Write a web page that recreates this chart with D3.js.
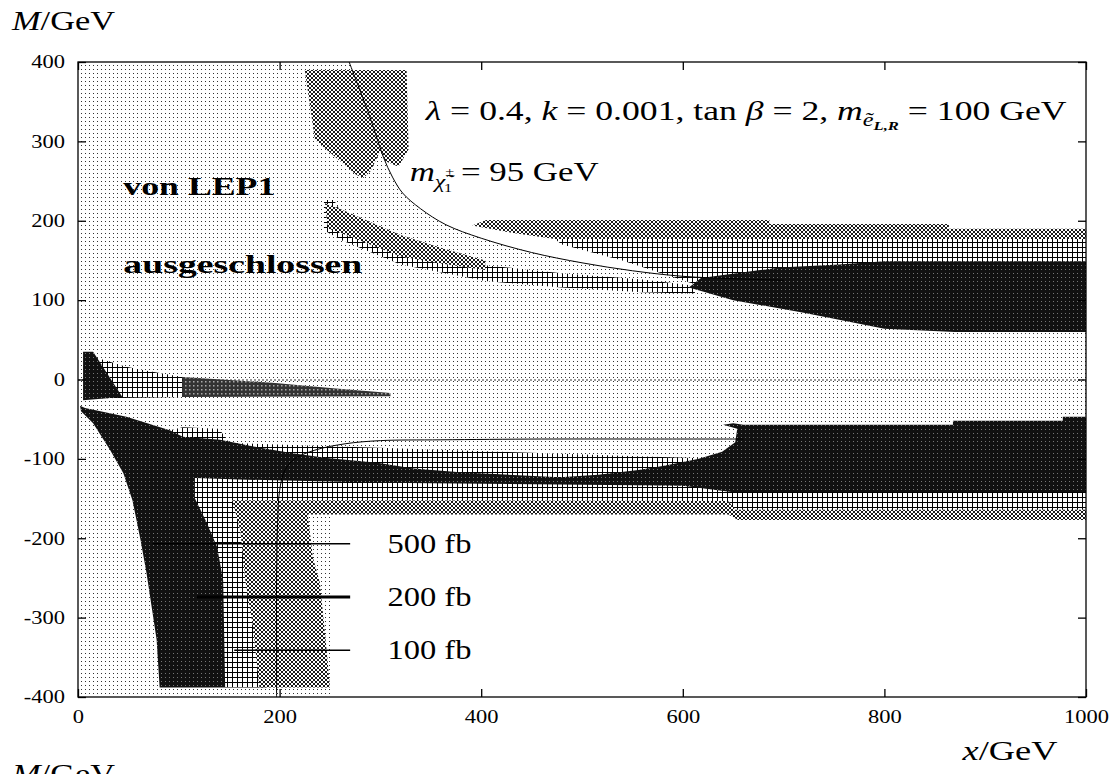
<!DOCTYPE html>
<html lang="de">
<head>
<meta charset="UTF-8">
<title>M / x Ebene</title>
<script src="https://cdn.jsdelivr.net/npm/d3@7"></script>
<style>
  body { margin: 0; background: #fff; }
  text { font-family: "Liberation Serif", "DejaVu Serif", serif; }
</style>
</head>
<body>
<svg id="plot" width="1117" height="774"></svg>
<script>
// Achsen
const xTicks = [0, 200, 400, 600, 800, 1000];
const yTicks = [-400, -300, -200, -100, 0, 100, 200, 300, 400];

// Konturen m_chi = 95 GeV, (x, M) in GeV
const upperCurve = [[269,400],[278,370],[287,340],[295,310],[303,280],[312,255],[322,235],[340,215],[365,195],[400,178],[450,160],[500,147],[550,137],[600,130],[650,127],[700,125]];
const lowerCurve = [[660,-75],[560,-75],[460,-75],[360,-76],[300,-77],[265,-81],[235,-89],[215,-100],[205,-115],[200,-140],[198,-180],[197,-250],[197,-330],[197,-400]];

// von LEP1 ausgeschlossen (Rand unten / rechts)
const lep1Edge = [[1000,125],[1000,-172],[250,-172],[250,-400],[0,-400],[0,400]];

// 500 fb (Rauten)
const diamBlob  = [[225,390],[326,390],[328,290],[318,268],[305,275],[300,288],[290,262],[283,254],[276,258],[235,302]];
const diamDiag  = [[245,222],[262,214],[320,182],[360,166],[404,150],[404,138],[360,146],[320,155],[262,184],[248,190]];
const diamTop   = [[391,194],[405,201],[686,201],[686,196],[864,196],[864,190],[1000,190],[1000,177],[473,177],[430,185]];
const diamLower = [[153,-152],[645,-153],[652,-164],[1000,-164],[1000,-177],[655,-177],[645,-170],[228,-170],[233,-224],[240,-256],[243,-294],[247,-345],[250,-388],[180,-388],[174,-316],[166,-253],[161,-190]];

// 200 fb (Kreuze)
const plusDiag  = [[244,226],[254,226],[262,208],[320,172],[404,144],[480,134],[560,126],[612,118],[612,108],[560,110],[480,116],[404,124],[320,145],[262,175],[244,188]];
const plusTop   = [[473,177],[1000,177],[1000,140],[700,140],[612,120],[540,150],[480,170]];
const plusZero  = [[10,30],[25,25],[48,16],[64,12],[104,3],[104,-22],[10,-24]];
const plusLower = [[91,-64],[104,-60],[140,-62],[150,-80],[640,-100],[1000,-100],[1000,-166],[650,-166],[640,-155],[186,-155],[186,-388],[146,-388],[110,-150]];

// 100 fb (dicht)
const darkUpper = [[606,116],[618,128],[696,141],[755,145],[800,149],[1000,149],[1000,60],[870,60],[800,64],[720,84],[650,100]];
const darkZero  = [[5,35],[15,35],[44,-22],[5,-26]];
const darkTail  = [[104,3],[193,-4],[253,-11],[310,-17],[310,-21],[104,-22]];
const darkLower = [[2,-33],[7,-36],[48,-47],[91,-64],[104,-72],[141,-76],[181,-86],[213,-93],[247,-99],[297,-105],[333,-112],[379,-117],[478,-123],[516,-120],[556,-114],[580,-109],[615,-100],[639,-91],[652,-79],[654,-62],[640,-57],[650,-55],[660,-57],[868,-57],[868,-52],[977,-52],[977,-47],[1000,-47],
  [1000,-142],[650,-142],[600,-134],[300,-130],[160,-126],[116,-124],[116,-150],[128,-181],[138,-211],[144,-253],[146,-388],[81,-388],[78,-328],[68,-244],[62,-202],[54,-152],[45,-118],[32,-89],[15,-55],[3,-40]];

// Legende
const lumi = ["500 fb", "200 fb", "100 fb"];
const keyM = [-207, -274, -341];
const keyStart = [74, 118, 155];
const keyEnd = 270;

const svg = d3.select("#plot");
const xS = d3.scaleLinear().domain([0, 1000]).range([78, 1086]);
const yS = d3.scaleLinear().domain([-400, 400]).range([697, 62]);

// Muster
const defs = svg.append("defs");
function pattern(id, w, h, bg, draw) {
  const p = defs.append("pattern").attr("id", id)
    .attr("patternUnits", "userSpaceOnUse").attr("width", w).attr("height", h);
  if (bg) p.append("rect").attr("width", w).attr("height", h).attr("fill", bg);
  draw(p);
}
pattern("dots", 4, 4, null, p => p.append("rect").attr("x", 1).attr("y", 1).attr("width", 1).attr("height", 1).attr("fill", "#333"));
pattern("plus", 5, 5, "#fff", p => p.append("path").attr("d", "M2.5,0V5M0,2.5H5").attr("stroke", "#000").attr("stroke-width", 1));
pattern("diam", 4, 4, "#fff", p => p.append("path").attr("d", "M2,0L4,2L2,4L0,2Z").attr("fill", "none").attr("stroke", "#000").attr("stroke-width", 0.9));
pattern("dark", 4, 4, "#111", p => p.append("rect").attr("x", 1).attr("y", 1).attr("width", 1).attr("height", 1).attr("fill", "#777"));
pattern("tail", 4, 4, "#333", p => p.append("rect").attr("x", 1).attr("y", 1).attr("width", 1.5).attr("height", 1.5).attr("fill", "#aaa"));

const line = d3.line().x(d => xS(d[0])).y(d => yS(d[1]));
function area(pts, fill) {
  svg.append("path").attr("d", line(pts) + "Z").attr("fill", fill);
}

area(upperCurve.concat(lep1Edge), "url(#dots)");

// Nulllinie
svg.append("line")
  .attr("x1", xS(0)).attr("x2", xS(1000))
  .attr("y1", yS(0) + 0.5).attr("y2", yS(0) + 0.5)
  .attr("stroke", "#333").attr("stroke-width", 1).attr("stroke-dasharray", "2,2");

[plusDiag, plusTop, plusZero, plusLower].forEach(p => area(p, "url(#plus)"));
[diamBlob, diamDiag, diamTop, diamLower].forEach(p => area(p, "url(#diam)"));
area(darkTail, "url(#tail)");
[darkUpper, darkZero, darkLower].forEach(p => area(p, "url(#dark)"));

const smooth = d3.line().x(d => xS(d[0])).y(d => yS(d[1])).curve(d3.curveCatmullRom);
[upperCurve, lowerCurve].forEach(c =>
  svg.append("path").attr("d", smooth(c)).attr("fill", "none").attr("stroke", "#000").attr("stroke-width", 1));

// Legende
lumi.forEach((l, i) => {
  svg.append("line")
    .attr("x1", xS(keyStart[i])).attr("x2", xS(keyEnd))
    .attr("y1", yS(keyM[i])).attr("y2", yS(keyM[i]))
    .attr("stroke", "#000").attr("stroke-width", i == 1 ? 3 : 1.5);
});

// Rahmen und Achsen
svg.append("rect").attr("x", 78).attr("y", 62).attr("width", 1008).attr("height", 635)
  .attr("fill", "none").attr("stroke", "#000").attr("stroke-width", 1.3);

const SX = 1.25;
const fmt = d => String(d);
function axis(g, labels) {
  g.select(".domain").remove();
  g.selectAll(".tick line").attr("stroke", "#000").attr("stroke-width", 1.3);
  g.attr("font-family", '"Liberation Sans", Arial, sans-serif').attr("font-size", 18);
  if (labels) g.selectAll(".tick text").attr("fill", "#000").attr("transform", `scale(${SX},1)`);
}
const gb = svg.append("g").attr("transform", "translate(0,697)")
  .call(d3.axisBottom(xS).tickValues(xTicks).tickFormat(fmt).tickSizeInner(-8).tickSizeOuter(0).tickPadding(13));
axis(gb, true);
const gt = svg.append("g").attr("transform", "translate(0,62)")
  .call(d3.axisTop(xS).tickValues(xTicks).tickSizeInner(-8).tickSizeOuter(0).tickFormat(""));
axis(gt, false);
const gl = svg.append("g").attr("transform", "translate(78,0)")
  .call(d3.axisLeft(yS).tickValues(yTicks).tickFormat(fmt).tickSizeInner(-8).tickSizeOuter(0).tickPadding(13));
axis(gl, true);
gl.selectAll(".tick text").attr("x", -13 / SX);
const gr = svg.append("g").attr("transform", "translate(1086,0)")
  .call(d3.axisRight(yS).tickValues(yTicks).tickSizeInner(-8).tickSizeOuter(0).tickFormat(""));
axis(gr, false);

// Texte, in der Breite an das Original angepasst
function tex(x, y, size, width, build, anchor) {
  const t = svg.append("text").attr("font-size", size).attr("text-anchor", anchor || "start").attr("fill", "#000");
  build(t);
  const len = t.node().getComputedTextLength();
  t.attr("transform", `translate(${x},${y}) scale(${width / len},1)`);
  return t;
}
const it = (t, s) => t.append("tspan").attr("font-style", "italic").text(s);
const rm = (t, s) => t.append("tspan").text(s);

tex(12, 30, 28, 103, t => { it(t, "M"); rm(t, "/GeV"); });
tex(1010, 760, 28, 95, t => { it(t, "x"); rm(t, "/GeV"); }, "middle");
tex(12, 783, 28, 103, t => { it(t, "M"); rm(t, "/GeV"); });

tex(xS(345), yS(327), 28, 641, t => {
  it(t, "λ"); rm(t, " = 0.4, "); it(t, "k"); rm(t, " = 0.001, tan "); it(t, "β"); rm(t, " = 2, ");
  it(t, "m");
  t.append("tspan").attr("font-style", "italic").attr("font-size", 19).attr("dy", 6).text("ẽ");
  t.append("tspan").attr("font-style", "italic").attr("font-weight", "bold").attr("font-size", 13).attr("dy", 4).text("L,R");
  t.append("tspan").attr("dy", -10).text(" = 100 GeV");
});

tex(xS(329), yS(250), 28, 199, t => {
  it(t, "m");
  t.append("tspan").attr("font-style", "italic").attr("font-size", 19).attr("dy", 7).text("χ̃");
  t.append("tspan").attr("font-size", 13).attr("dy", -12).text("±");
  t.append("tspan").attr("font-size", 13).attr("dx", -8).attr("dy", 16).text("1");
  t.append("tspan").attr("dy", -11).text(" = 95 GeV");
});

tex(xS(45), yS(232), 25, 152, t => t.attr("font-weight", "bold").text("von LEP1"));
tex(xS(45), yS(134), 25, 239, t => t.attr("font-weight", "bold").text("ausgeschlossen"));

lumi.forEach((l, i) => tex(xS(307), yS(keyM[i]) + 9, 27, 84, t => t.text(l)));
</script>
</body>
</html>
